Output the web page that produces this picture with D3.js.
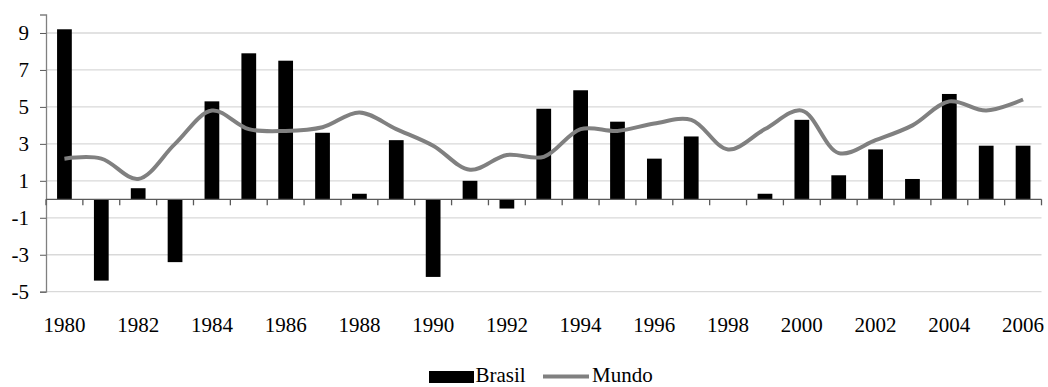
<!DOCTYPE html>
<html>
<head>
<meta charset="utf-8">
<script src="https://cdn.jsdelivr.net/npm/d3@7"></script>
<style>
  html, body { margin: 0; padding: 0; background: #fff; }
  svg { display: block; }
  text { font-family: "Liberation Serif", "Times New Roman", serif; fill: #000; }
</style>
</head>
<body>
<svg id="chart" width="1048" height="387"></svg>
<script>
const years = ["1980","1981","1982","1983","1984","1985","1986","1987","1988","1989","1990","1991","1992","1993","1994","1995","1996","1997","1998","1999","2000","2001","2002","2003","2004","2005","2006"];
const brasil = [9.2,-4.4,0.6,-3.4,5.3,7.9,7.5,3.6,0.3,3.2,-4.2,1.0,-0.5,4.9,5.9,4.2,2.2,3.4,0.0,0.3,4.3,1.3,2.7,1.1,5.7,2.9,2.9];
const mundo = [2.2,2.2,1.1,3.0,4.8,3.8,3.7,3.9,4.7,3.8,2.9,1.6,2.4,2.3,3.8,3.7,4.1,4.3,2.7,3.8,4.8,2.5,3.2,4.0,5.3,4.8,5.4];
const yTicks = [-5,-3,-1,1,3,5,7,9];
const xLabels = ["1980","1982","1984","1986","1988","1990","1992","1994","1996","1998","2000","2002","2004","2006"];
const seriesNames = ["Brasil","Mundo"];

const svg = d3.select("#chart");
const x = d3.scaleBand().domain(years).range([46, 1041.5]).paddingInner(0.6).paddingOuter(0.3);
const y = d3.scaleLinear().domain([-5, 10]).range([291.7, 14.5]);
const x0 = 46, x1 = 1041.5;

// gridlines
svg.append("g").selectAll("line").data(yTicks).join("line")
  .attr("x1", x0).attr("x2", x1)
  .attr("y1", d => y(d)).attr("y2", d => y(d))
  .attr("stroke", "#d9d9d9").attr("stroke-width", 1.3);

// y axis
const yAxis = d3.axisLeft(y).tickValues(yTicks).tickSize(6).tickPadding(11).tickFormat(d => String(d));
const gy = svg.append("g").attr("transform", `translate(${x0},0)`).call(yAxis)
  .attr("font-family", "Liberation Serif");
gy.select(".domain").attr("stroke", "#808080").attr("stroke-width", 1.3);
gy.selectAll(".tick line").attr("stroke", "#595959");
gy.selectAll(".tick text").attr("font-size", 21).attr("fill", "#000");

// bars
svg.append("g").selectAll("rect").data(years).join("rect")
  .attr("x", d => x(d))
  .attr("width", x.bandwidth())
  .attr("y", (d, i) => y(Math.max(0, brasil[i])))
  .attr("height", (d, i) => Math.abs(y(brasil[i]) - y(0)))
  .attr("fill", "#000");

// x axis at zero
const gx = svg.append("g");
gx.append("line").attr("x1", x0).attr("x2", x1).attr("y1", y(0)).attr("y2", y(0))
  .attr("stroke", "#595959").attr("stroke-width", 1.3);
const boundaries = years.map(d => x(d) - x.step() * x.paddingInner() / 2).concat([x1]);
gx.selectAll("line.tk").data(boundaries).join("line").attr("class", "tk")
  .attr("x1", d => d).attr("x2", d => d)
  .attr("y1", y(0)).attr("y2", y(0) + 6)
  .attr("stroke", "#595959").attr("stroke-width", 1.3);
gx.selectAll("text").data(xLabels).join("text")
  .attr("x", d => x(d) + x.bandwidth() / 2)
  .attr("y", 332)
  .attr("text-anchor", "middle")
  .attr("font-size", 21)
  .text(d => d);

// mundo line
const line = d3.line()
  .x((d, i) => x(years[i]) + x.bandwidth() / 2)
  .y(d => y(d))
  .curve(d3.curveCatmullRom.alpha(0.5));
svg.append("path").datum(mundo).attr("d", line)
  .attr("fill", "none").attr("stroke", "#808080").attr("stroke-width", 4)
  .attr("stroke-linejoin", "round");

// legend
const lg = svg.append("g");
lg.append("rect").attr("x", 429).attr("y", 371).attr("width", 45).attr("height", 12).attr("fill", "#000");
lg.append("text").attr("x", 475.5).attr("y", 382).attr("font-size", 21).text(seriesNames[0]);
lg.append("line").attr("x1", 543).attr("x2", 589).attr("y1", 376.5).attr("y2", 376.5)
  .attr("stroke", "#808080").attr("stroke-width", 4);
lg.append("text").attr("x", 592).attr("y", 382).attr("font-size", 21).text(seriesNames[1]);
</script>
</body>
</html>
